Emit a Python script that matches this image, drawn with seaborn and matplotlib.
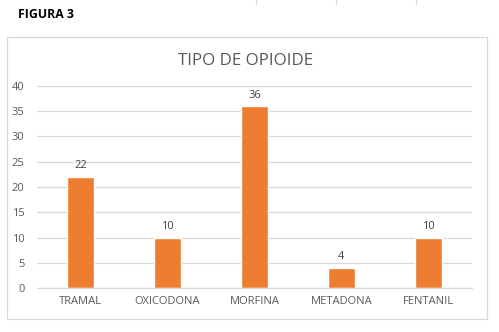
import matplotlib
matplotlib.use("Agg")
import matplotlib.pyplot as plt
from matplotlib.patches import Rectangle
from matplotlib.lines import Line2D
import seaborn as sns
import pandas as pd

categories = ["TRAMAL", "OXICODONA", "MORFINA", "METADONA", "FENTANIL"]
values = [22, 10, 36, 4, 10]
y_ticks = [0, 5, 10, 15, 20, 25, 30, 35, 40]

sns.set_theme(style="white")
plt.rcParams["font.family"] = ["Open Sans", "DejaVu Sans"]

W, H = 499, 332
fig = plt.figure(figsize=(W / 100, H / 100), dpi=100)
fig.patch.set_facecolor("white")

# spreadsheet cell lines peeking at the top
for x in (256, 336, 416):
    fig.add_artist(Line2D([x / W, x / W], [1, 1 - 4 / H], color="#d9d9d9", lw=0.8))

# chart frame
fig.add_artist(Rectangle((7 / W, 1 - 319 / H), 480 / W, 282 / H, fill=False,
                         edgecolor="#d9d9d9", lw=0.9, transform=fig.transFigure))

fig.text(18 / W, 1 - 15 / H, "FIGURA 3", fontsize=8.8, fontweight="bold",
         color="black", va="center", ha="left")
fig.text(246 / W, 1 - 61 / H, "TIPO DE OPIOIDE", fontsize=12.2, color="#595959",
         va="center", ha="center")

ax = fig.add_axes([37 / W, 44 / H, 435 / W, 202 / H])
df = pd.DataFrame({"cat": categories, "val": values})
sns.barplot(data=df, x="cat", y="val", color="#ED7D31", width=0.31,
            saturation=1, ax=ax)

ax.set_ylim(0, 40)
ax.set_yticks(y_ticks)
ax.set_xlim(-0.5, len(categories) - 0.5)
ax.yaxis.grid(True, color="#d9d9d9", lw=0.9)
ax.set_axisbelow(True)
for s in ("top", "right", "left"):
    ax.spines[s].set_visible(False)
ax.spines["bottom"].set_color("#d9d9d9")
ax.spines["bottom"].set_linewidth(0.9)
ax.set_xlabel("")
ax.set_ylabel("")
ax.tick_params(axis="both", length=0, labelsize=8, labelcolor="#595959")
ax.tick_params(axis="y", pad=9)
ax.tick_params(axis="x", pad=6)

for c in ax.containers:
    ax.bar_label(c, labels=[str(v) for v in values], padding=4,
                 fontsize=8, color="#404040")

fig.savefig("out.png", dpi=100, facecolor="white")
